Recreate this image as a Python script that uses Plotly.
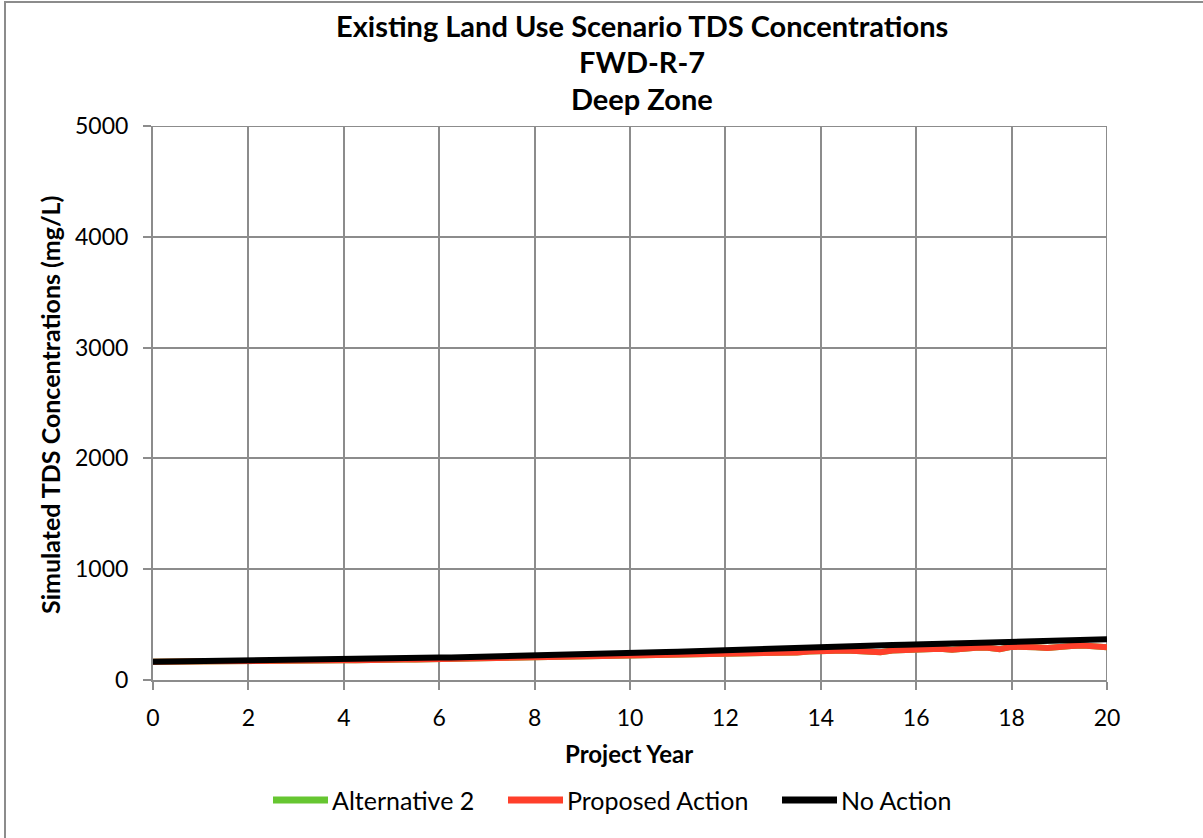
import plotly.graph_objects as go

years = [i * 0.25 for i in range(81)]

no_action = [
    165, 166, 167, 168, 169, 170, 171, 173, 175,
    176, 177, 178, 179, 181, 182, 184, 186,
    188, 190, 192, 194, 196, 198, 200, 202,
    204, 206, 208, 211, 213, 215, 218, 220,
    223, 225, 228, 230, 233, 236, 239, 242,
    246, 249, 253, 256, 260, 264, 268, 272,
    275, 279, 282, 286, 289, 293, 296, 300,
    302, 305, 307, 310, 313, 316, 319, 322,
    325, 327, 330, 333, 336, 339, 342, 345,
    347, 350, 352, 348, 355, 358, 362, 367,
]

proposed_action = [
    165, 165, 166, 166, 167, 167, 168, 169, 170,
    171, 171, 172, 173, 174, 175, 176, 178,
    179, 177, 181, 183, 184, 186, 188, 190,
    191, 193, 192, 196, 198, 197, 200, 203,
    205, 207, 204, 209, 211, 210, 213, 216,
    219, 217, 222, 225, 223, 228, 233, 238,
    240, 243, 236, 248, 251, 249, 257, 262,
    264, 266, 262, 258, 250, 266, 272, 276,
    279, 283, 274, 288, 290, 292, 278, 300,
    302, 296, 288, 303, 306, 312, 301, 296,
]

alternative_2 = [
    165, 165, 166, 166, 167, 167, 168, 169, 170,
    171, 171, 172, 173, 174, 175, 176, 178,
    179, 177, 181, 183, 184, 186, 188, 190,
    191, 193, 192, 196, 198, 197, 200, 203,
    205, 207, 204, 209, 211, 210, 213, 216,
    219, 217, 222, 225, 223, 228, 233, 238,
    240, 243, 236, 248, 251, 249, 257, 262,
    264, 266, 262, 258, 250, 266, 272, 276,
    279, 283, 274, 288, 290, 292, 278, 300,
    302, 296, 288, 303, 306, 312, 301, 296,
]

series_names = ["Alternative 2", "Proposed Action", "No Action"]
series_colors = ["#66c631", "#ff3f2a", "#000000"]
title_lines = ["Existing Land Use Scenario TDS Concentrations", "FWD-R-7", "Deep Zone"]
x_ticks = list(range(0, 21, 2))
y_ticks = list(range(0, 5001, 1000))

FONT = "Lato"
GRID = "#8c8c8c"
W, H = 1203, 838
L, R, T, B = 153, 96, 126, 158
PW, PH = W - L - R, H - T - B


def px(x):
    return (x - L) / PW


def py(y):
    return (H - B - y) / PH


fig = go.Figure()
for name, vals, col in zip(series_names, [alternative_2, proposed_action, no_action], series_colors):
    fig.add_trace(go.Scatter(x=years, y=vals, mode="lines", name=name,
                             line=dict(color=col, width=6), showlegend=False))

# titles
for yc, t in zip([25, 62, 99], title_lines):
    fig.add_annotation(text="<b>%s</b>" % t, xref="paper", yref="paper",
                       x=px(642), y=py(yc), xanchor="center", yanchor="middle",
                       showarrow=False, font=dict(family=FONT, size=29, color="black"))

fig.add_annotation(text="<b>Project Year</b>", xref="paper", yref="paper",
                   x=px(629), y=py(753), xanchor="center", yanchor="middle",
                   showarrow=False, font=dict(family=FONT, size=24, color="black"))
fig.add_annotation(text="<b>Simulated TDS Concentrations (mg/L)</b>", xref="paper", yref="paper",
                   x=px(50), y=py(405), xanchor="center", yanchor="middle",
                   textangle=-90, showarrow=False, font=dict(family=FONT, size=25, color="black"))

# custom legend (55px lines like the original)
legend_x = [273, 508, 782]
for lx, name, col in zip(legend_x, series_names, series_colors):
    fig.add_shape(type="line", xref="paper", yref="paper",
                  x0=px(lx), x1=px(lx + 55), y0=py(800), y1=py(800),
                  line=dict(color=col, width=7))
    fig.add_annotation(text=name, xref="paper", yref="paper",
                       x=px(lx + 57), y=py(800), xanchor="left", yanchor="middle",
                       showarrow=False, font=dict(family=FONT, size=25, color="black"))

# outer chart border
fig.add_shape(type="rect", xref="paper", yref="paper",
              x0=px(5), x1=px(1230), y0=py(860), y1=py(2),
              line=dict(color=GRID, width=2), fillcolor="rgba(0,0,0,0)")

fig.update_layout(
    width=W, height=H,
    margin=dict(l=L, r=R, t=T, b=B),
    paper_bgcolor="white", plot_bgcolor="white",
    font=dict(family=FONT, size=23, color="black"),
    showlegend=False,
    xaxis=dict(range=[0, 20], tickvals=x_ticks, showgrid=True, gridcolor=GRID, gridwidth=2,
               showline=True, linecolor=GRID, linewidth=2, ticks="outside", ticklen=8,
               tickcolor=GRID, tickwidth=2, zeroline=False, fixedrange=True,
               tickfont=dict(family=FONT, size=23), ticklabelstandoff=8),
    yaxis=dict(range=[0, 5000], tickvals=y_ticks, showgrid=True, gridcolor=GRID, gridwidth=2,
               showline=True, linecolor=GRID, linewidth=2, ticks="outside", ticklen=8,
               tickcolor=GRID, tickwidth=2, zeroline=False, fixedrange=True,
               tickfont=dict(family=FONT, size=23), ticklabelstandoff=10),
)
fig.add_shape(type="line", xref="x", yref="paper", x0=20, x1=20, y0=0, y1=1,
              line=dict(color=GRID, width=2), layer="below")
fig.add_shape(type="line", xref="paper", yref="y", x0=0, x1=1, y0=5000, y1=5000,
              line=dict(color=GRID, width=2), layer="below")

fig.write_html("out.html", config={"displayModeBar": False},
               post_script="document.body.style.margin='0';document.body.style.overflow='hidden';")
